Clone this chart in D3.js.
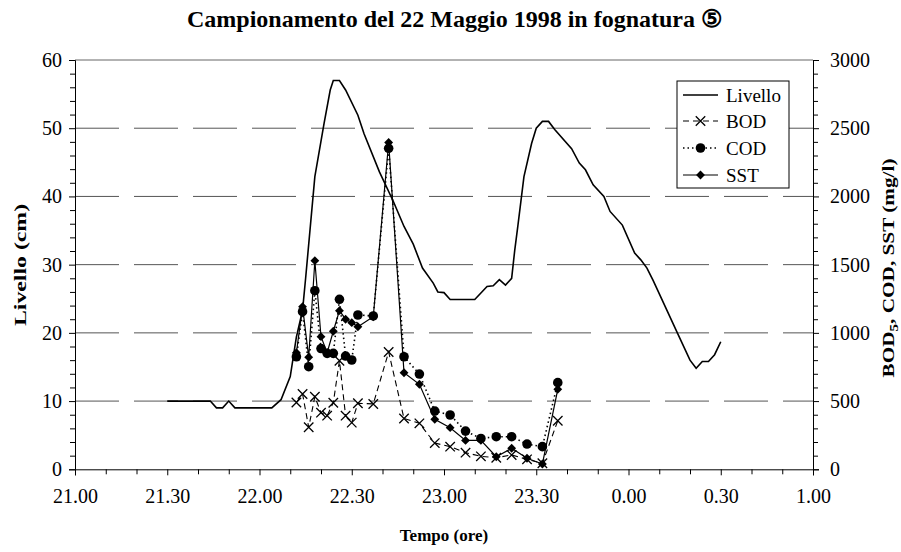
<!DOCTYPE html>
<html><head><meta charset="utf-8">
<script src="https://cdn.jsdelivr.net/npm/d3@7"></script>
<style>body{margin:0;background:#fff}svg{display:block}</style>
</head><body>
<svg id="chart" width="901" height="552"></svg>
<script>
// ---- data (time = minutes after 21:00) ----
const xTickLabels = ["21.00","21.30","22.00","22.30","23.00","23.30","0.00","0.30","1.00"];
const leftTicks = [0,10,20,30,40,50,60];
const rightTicks = [0,500,1000,1500,2000,2500,3000];

const livelloT = [30,44,46,48,50,52,64,67,70,72,74,75,78,81,83,84,86,88,92,94,99,103.5,107,110,113,116.5,118,120,122,130,134,136,138,140,142,143,144,146,148.5,150,152,154,156,161.5,164,166,168.5,172,174,178,182,184,186,188,196,200,202,204,206,208,210];
const livelloV = [10,10,9,9,10,9,9,10.2,13.6,19.4,23.3,28,42.9,50.7,55.6,57,57,55.6,51.9,49.2,43.6,39.3,35.6,33,29.5,27.3,26,25.9,24.9,24.9,26.8,26.9,27.8,27,28,32.1,35.6,42.9,47.8,50,51,51,49.8,47,44.9,43.9,41.7,40,37.8,35.8,31.7,30.7,29.5,27.7,19.9,16,14.8,15.8,15.8,16.8,18.7];

const sampleT = [72,74,76,78,80,82,84,86,88,90,92,97,102,107,112,117,122,127,132,137,142,147,152,157];
const bodV = [490,552,308,532,415,393,488,796,393,342,484,479,860,372,337,192,166,122,95,85,105,73,44,356];
const codV = [825,1155,752,1309,885,850,850,1246,830,801,1131,1124,2353,825,698,427,398,280,226,239,239,185,166,635];
const sstV = [855,1192,821,1529,972,855,1012,1163,1100,1075,1045,1118,2395,708,623,366,305,212,212,92,154,81,39,586];

const legendItems = ["Livello","BOD","COD","SST"];

// ---- layout ----
const svg = d3.select("#chart");
const L = 75, R = 813, T = 60, B = 469.3;
const serif = "'Liberation Serif','Times New Roman',serif";
const x = d3.scaleLinear().domain([0,240]).range([L,R]);
const yL = d3.scaleLinear().domain([0,60]).range([B,T]);
const yR = d3.scaleLinear().domain([0,3000]).range([B,T]);

// gridlines
svg.append("g").selectAll("line").data(leftTicks.filter(d=>d>0 && d<60)).join("line")
  .attr("x1",L).attr("x2",R).attr("y1",d=>yL(d)).attr("y2",d=>yL(d))
  .attr("stroke","#555").attr("stroke-width",1).attr("stroke-dasharray","44,15");
svg.append("line").attr("x1",L).attr("x2",R).attr("y1",yL(60)).attr("y2",yL(60))
  .attr("stroke","#666").attr("stroke-width",1);

// axes
const xAxis = d3.axisBottom(x).tickValues(d3.range(0,241,30)).tickSize(6)
  .tickFormat((d,i)=>xTickLabels[i]);
const gx = svg.append("g").attr("transform",`translate(0,${B})`).call(xAxis);
svg.append("g").attr("transform",`translate(0,${B})`)
  .call(d3.axisBottom(x).tickValues(d3.range(0,241,10).filter(d=>d%30)).tickSize(5).tickFormat(""))
  .call(g=>g.select(".domain").remove());
const gyl = svg.append("g").attr("transform",`translate(${L},0)`)
  .call(d3.axisLeft(yL).tickValues(leftTicks).tickSize(6).tickFormat(d3.format("d")));
svg.append("g").attr("transform",`translate(${L},0)`)
  .call(d3.axisLeft(yL).tickValues(d3.range(0,61,2).filter(d=>d%10)).tickSize(5).tickFormat(""))
  .call(g=>g.select(".domain").remove());
const gyr = svg.append("g").attr("transform",`translate(${R},0)`)
  .call(d3.axisRight(yR).tickValues(rightTicks).tickSize(6).tickFormat(d3.format("d")));
svg.append("g").attr("transform",`translate(${R},0)`)
  .call(d3.axisRight(yR).tickValues(d3.range(0,3001,100).filter(d=>d%500)).tickSize(5).tickFormat(""))
  .call(g=>g.select(".domain").remove());

svg.selectAll(".domain").attr("stroke","#000").attr("stroke-width",1);
svg.selectAll(".tick line").attr("stroke","#000");
svg.selectAll("g").attr("font-family",null);
svg.selectAll(".tick text").style("font-family",serif).style("font-size","20px").attr("fill","#000");
gx.selectAll(".tick text").attr("dy","1.25em");
gyl.selectAll(".tick text").attr("dx","-0.2em");
gyr.selectAll(".tick text").attr("dx","0.4em");

// Livello line
svg.append("path").datum(livelloT.map((t,i)=>[t,livelloV[i]]))
  .attr("fill","none").attr("stroke","#000").attr("stroke-width",1.6)
  .attr("d", d3.line().x(d=>x(d[0])).y(d=>yL(d[1])));

const pts = v => sampleT.map((t,i)=>[t,v[i]]);
const lineR = d3.line().x(d=>x(d[0])).y(d=>yR(d[1]));

// BOD
svg.append("path").datum(pts(bodV)).attr("fill","none").attr("stroke","#000")
  .attr("stroke-width",1.1).attr("stroke-dasharray","6,4").attr("d",lineR);
// COD
svg.append("path").datum(pts(codV)).attr("fill","none").attr("stroke","#000")
  .attr("stroke-width",1.6).attr("stroke-dasharray","1.5,3").attr("d",lineR);
// SST
svg.append("path").datum(pts(sstV)).attr("fill","none").attr("stroke","#000")
  .attr("stroke-width",1.2).attr("d",lineR);

const cross = d3.symbol().type(d3.symbolX).size(60);
const diamond = d3.symbol().type(d3.symbolDiamond2).size(50);
svg.append("g").selectAll("path").data(pts(bodV)).join("path")
  .attr("transform",d=>`translate(${x(d[0])},${yR(d[1])})`).attr("d",cross)
  .attr("stroke","#000").attr("stroke-width",1.3).attr("fill","none");
svg.append("g").selectAll("circle").data(pts(codV)).join("circle")
  .attr("cx",d=>x(d[0])).attr("cy",d=>yR(d[1])).attr("r",4.8).attr("fill","#000");
svg.append("g").selectAll("path").data(pts(sstV)).join("path")
  .attr("transform",d=>`translate(${x(d[0])},${yR(d[1])})`).attr("d",diamond).attr("fill","#000");

// Legend
const lg = svg.append("g");
lg.append("rect").attr("x",677).attr("y",81).attr("width",112).attr("height",107)
  .attr("fill","#fff").attr("stroke","#000").attr("stroke-width",1);
const rowY = [95,121,148,175];
legendItems.forEach((name,i)=>{
  const yy = rowY[i];
  const ln = lg.append("line").attr("x1",683).attr("x2",718).attr("y1",yy).attr("y2",yy)
    .attr("stroke","#000");
  if(i===0) ln.attr("stroke-width",1.6);
  if(i===1) ln.attr("stroke-dasharray","6,4").attr("stroke-width",1.1);
  if(i===2) ln.attr("stroke-dasharray","1.5,3").attr("stroke-width",1.6);
  if(i===3) ln.attr("stroke-width",1.2);
  if(i===1) lg.append("path").attr("transform",`translate(700.5,${yy})`).attr("d",cross).attr("stroke","#000").attr("stroke-width",1.3).attr("fill","none");
  if(i===2) lg.append("circle").attr("cx",700.5).attr("cy",yy).attr("r",4.8).attr("fill","#000");
  if(i===3) lg.append("path").attr("transform",`translate(700.5,${yy})`).attr("d",diamond).attr("fill","#000");
  lg.append("text").attr("x",726).attr("y",yy).attr("dy","0.35em").style("font-family",serif)
    .style("font-size","19px").text(name);
});

// Titles
svg.append("text").attr("x",455).attr("y",27).attr("text-anchor","middle")
  .style("font-family",serif).attr("font-weight","bold").style("font-size","24px")
  .text("Campionamento del 22 Maggio 1998 in fognatura ⑤");
svg.append("text").attr("x",444).attr("y",541).attr("text-anchor","middle")
  .style("font-family",serif).attr("font-weight","bold").style("font-size","17px")
  .text("Tempo (ore)");
svg.append("text").attr("transform","translate(26,265) rotate(-90) scale(1.4,1)").attr("text-anchor","middle")
  .style("font-family",serif).attr("font-weight","bold").style("font-size","17px")
  .text("Livello (cm)");
const rt = svg.append("text").attr("transform","translate(894,268) rotate(-90) scale(1.25,1)").attr("text-anchor","middle")
  .style("font-family",serif).attr("font-weight","bold").style("font-size","17px");
rt.append("tspan").text("BOD");
rt.append("tspan").style("font-size","12px").attr("dy",4).text("5");
rt.append("tspan").attr("dy",-4).text(", COD, SST (mg/l)");
</script>
</body></html>
